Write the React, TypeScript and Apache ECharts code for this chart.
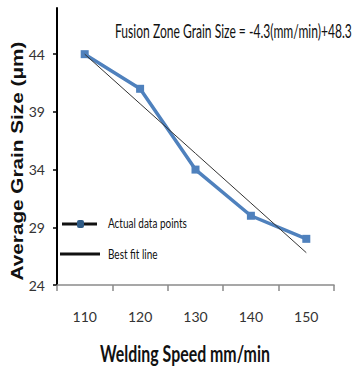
import React, { useEffect, useRef } from "react";
import * as echarts from "echarts";

const categories = ["110", "120", "130", "140", "150"];
const actualValues = [44, 41, 34, 30, 28];
const fitValues = [44, 39.7, 35.4, 31.1, 26.8];
const yMin = 24;
const yMax = 48;
const yInterval = 5;
const equationText = "Fusion Zone Grain Size = -4.3(mm/min)+48.3";
const xTitle = "Welding Speed mm/min";
const yTitle = "Average Grain Size (\u03bcm)";
const legendNames = ["Actual data points", "Best fit line"];

const FONT = "Lato, 'Liberation Sans', sans-serif";

function measure(text: string, font: string): number {
  const c = document.createElement("canvas");
  const ctx = c.getContext("2d");
  if (!ctx) return text.length * 8;
  ctx.font = font;
  return ctx.measureText(text).width;
}

export default function App() {
  const ref = useRef<HTMLDivElement>(null);
  useEffect(() => {
    document.body.style.margin = "0";
    if (!ref.current) return;
    const chart = echarts.init(ref.current, undefined, { renderer: "svg" });

    const eqSize = 19;
    const eqW = measure(equationText, `${eqSize}px Lato`);
    const eqScale = 237 / eqW;
    const xtSize = 22;
    const xtW = measure(xTitle, `bold ${xtSize}px Lato`);
    const xtScale = 170 / xtW;
    const ytSize = 17;
    const ytW = measure(yTitle, `bold ${ytSize}px 'Liberation Sans'`);
    const ytScale = 239 / ytW;
    const lgSize = 14;
    const lg1W = measure(legendNames[0], `${lgSize}px Lato`);
    const lgScale = 79 / lg1W;

    chart.setOption({
      animation: false,
      backgroundColor: "#ffffff",
      grid: { left: 57, right: 24, top: 8, bottom: 81, containLabel: false },
      xAxis: {
        type: "category",
        data: categories,
        boundaryGap: true,
        axisLine: { lineStyle: { color: "#8a8a8a", width: 1.5 } },
        axisTick: { show: true, length: 6, lineStyle: { color: "#8a8a8a", width: 1.5 } },
        axisLabel: { margin: 24, fontFamily: FONT, fontSize: 14, color: "#333" },
      },
      yAxis: {
        type: "value",
        min: yMin,
        max: yMax,
        interval: yInterval,
        splitLine: { show: false },
        axisLine: { show: true, lineStyle: { color: "#000", width: 2 } },
        axisTick: { show: true, length: 4, lineStyle: { color: "#000", width: 1.5 } },
        axisLabel: { showMaxLabel: false, margin: 12, fontFamily: FONT, fontSize: 14, color: "#333" },
      },
      graphic: [
        {
          type: "text",
          x: 115,
          y: 30,
          scaleX: eqScale,
          style: { text: equationText, font: `${eqSize}px Lato`, fill: "#111", verticalAlign: "middle" },
        },
        {
          type: "text",
          x: 185,
          y: 353,
          scaleX: xtScale,
          style: { text: xTitle, font: `bold ${xtSize}px Lato`, fill: "#111", align: "center", verticalAlign: "middle" },
        },
        {
          type: "text",
          x: 17,
          y: 161,
          rotation: Math.PI / 2,
          scaleX: ytScale,
          style: { text: yTitle, font: `bold ${ytSize}px 'Liberation Sans'`, fill: "#111", align: "center", verticalAlign: "middle" },
        },
        { type: "line", shape: { x1: 62, y1: 224, x2: 97, y2: 224 }, style: { stroke: "#111", lineWidth: 3 } },
        { type: "rect", shape: { x: 77, y: 220, width: 7, height: 8, r: 2 }, style: { fill: "#2F5B86" } },
        {
          type: "text",
          x: 108,
          y: 223,
          scaleX: lgScale,
          style: { text: legendNames[0], font: `${lgSize}px Lato`, fill: "#111", verticalAlign: "middle" },
        },
        { type: "line", shape: { x1: 60, y1: 254, x2: 100, y2: 254 }, style: { stroke: "#111", lineWidth: 3 } },
        {
          type: "text",
          x: 108,
          y: 254,
          scaleX: lgScale,
          style: { text: legendNames[1], font: `${lgSize}px Lato`, fill: "#111", verticalAlign: "middle" },
        },
      ],
      series: [
        {
          name: legendNames[0],
          type: "line",
          data: actualValues,
          symbol: "rect",
          symbolSize: 8,
          lineStyle: { color: "#4F81BD", width: 3.5 },
          itemStyle: { color: "#4F81BD" },
          z: 2,
        },
        {
          name: legendNames[1],
          type: "line",
          data: fitValues,
          symbol: "none",
          lineStyle: { color: "#333", width: 1 },
          itemStyle: { color: "#333" },
          z: 3,
        },
      ],
    });
    return () => chart.dispose();
  }, []);
  return <div ref={ref} style={{ width: 358, height: 366 }} />;
}
